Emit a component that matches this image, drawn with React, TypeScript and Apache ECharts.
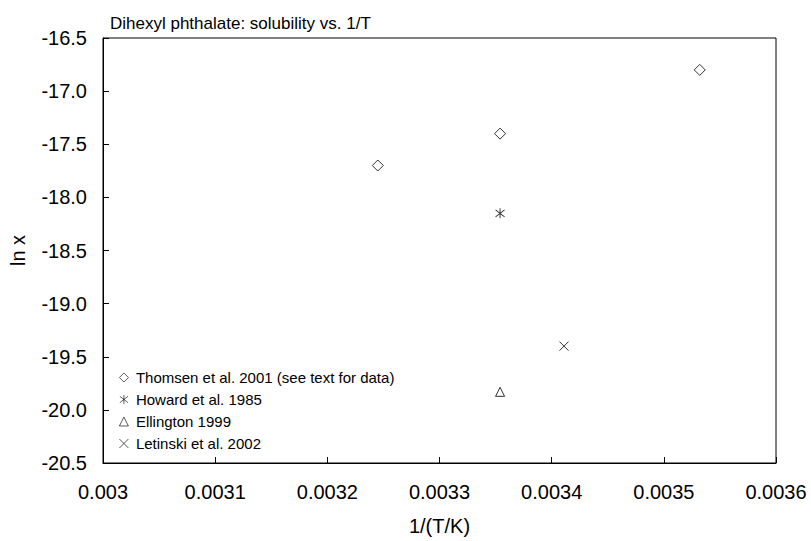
import React, { useEffect, useRef } from "react";
import * as echarts from "echarts";

const seriesNames = [
  "Thomsen et al. 2001 (see text for data)",
  "Howard et al. 1985",
  "Ellington 1999",
  "Letinski et al. 2002",
];
const thomsenX = [0.003245, 0.003354, 0.003532];
const thomsenY = [-17.7, -17.4, -16.8];
const howardX = [0.003354];
const howardY = [-18.15];
const ellingtonX = [0.003354];
const ellingtonY = [-19.83];
const letinskiX = [0.003411];
const letinskiY = [-19.4];

const xTicks = { min: 0.003, max: 0.0036, interval: 0.0001 };
const yTicks = { min: -20.5, max: -16.5, interval: 0.5 };

const FONT = "Liberation Sans, Arial, Helvetica, sans-serif";
const DIAMOND = "path://M5 0 L10 5 L5 10 L0 5 Z";
const STAR = "path://M5 0 L5 10 M0.5 1.5 L9.5 8.5 M0.5 8.5 L9.5 1.5";
const TRIANGLE = "path://M5 0 L10 10 L0 10 Z";
const CROSS = "path://M0 0 L10 10 M10 0 L0 10";

const zip = (xs: number[], ys: number[]) => xs.map((x, i) => [x, ys[i]]);

export default function App() {
  const ref = useRef<HTMLDivElement>(null);
  useEffect(() => {
    if (!ref.current) return;
    const chart = echarts.init(ref.current, null, { renderer: "svg" });
    const strokeStyle = { color: "transparent", borderColor: "#000", borderWidth: 1 };
    chart.setOption({
      animation: false,
      backgroundColor: "#fff",
      title: {
        text: "Dihexyl phthalate: solubility vs. 1/T",
        left: 105,
        top: 10,
        textStyle: { fontFamily: FONT, fontSize: 17, fontWeight: "normal", color: "#000" },
      },
      legend: {
        orient: "vertical",
        left: 119,
        top: 370,
        padding: 0,
        itemGap: 7,
        itemWidth: 14,
        itemHeight: 9,
        itemStyle: { borderWidth: 0.8 },
        textStyle: { fontFamily: FONT, fontSize: 15, color: "#000" },
        data: seriesNames,
      },
      grid: {
        left: 103,
        top: 38,
        right: 35,
        bottom: 75,
        show: true,
        borderColor: "#000",
        borderWidth: 1,
        backgroundColor: "transparent",
      },
      xAxis: {
        type: "value",
        min: xTicks.min,
        max: xTicks.max,
        interval: xTicks.interval,
        name: "1/(T/K)",
        nameLocation: "middle",
        nameGap: 53,
        nameTextStyle: { fontFamily: FONT, fontSize: 20, color: "#000" },
        axisLine: { show: true, lineStyle: { color: "#000", width: 1 } },
        axisTick: { show: true, inside: true, length: 6, lineStyle: { color: "#000" } },
        splitLine: { show: false },
        axisLabel: {
          fontFamily: FONT,
          fontSize: 20,
          color: "#000",
          margin: 19,
          formatter: (v: number) => String(+v.toFixed(4)),
        },
      },
      yAxis: {
        type: "value",
        min: yTicks.min,
        max: yTicks.max,
        interval: yTicks.interval,
        name: "ln x",
        nameLocation: "middle",
        nameGap: 75,
        nameRotate: 90,
        nameTextStyle: { fontFamily: FONT, fontSize: 20, color: "#000" },
        axisLine: { show: true, lineStyle: { color: "#000", width: 1 } },
        axisTick: { show: true, inside: true, length: 6, lineStyle: { color: "#000" } },
        splitLine: { show: false },
        axisLabel: {
          fontFamily: FONT,
          fontSize: 20,
          color: "#000",
          margin: 16,
          formatter: (v: number) => v.toFixed(1),
        },
      },
      series: [
        {
          name: seriesNames[0],
          type: "scatter",
          symbol: DIAMOND,
          symbolSize: [11, 11],
          itemStyle: strokeStyle,
          data: zip(thomsenX, thomsenY),
        },
        {
          name: seriesNames[1],
          type: "scatter",
          symbol: STAR,
          symbolSize: [9, 10],
          itemStyle: strokeStyle,
          data: zip(howardX, howardY),
        },
        {
          name: seriesNames[2],
          type: "scatter",
          symbol: TRIANGLE,
          symbolSize: [9, 9],
          itemStyle: strokeStyle,
          data: zip(ellingtonX, ellingtonY),
        },
        {
          name: seriesNames[3],
          type: "scatter",
          symbol: CROSS,
          symbolSize: [9, 9],
          itemStyle: strokeStyle,
          data: zip(letinskiX, letinskiY),
        },
      ],
    });
    return () => chart.dispose();
  }, []);
  return <div ref={ref} style={{ width: 811, height: 541, position: "absolute", left: 0, top: 0 }} />;
}
